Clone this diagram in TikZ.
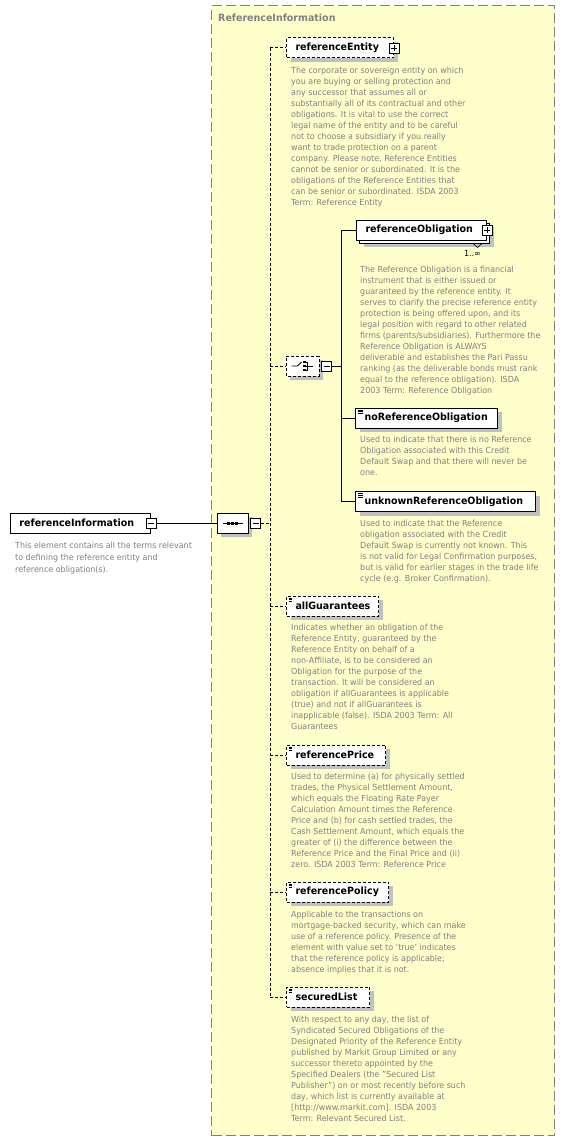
\documentclass[tikz,border=0pt]{standalone}
\usepackage{fontspec}
\setmainfont{DejaVu Sans}[FakeStretch=0.95]
\usetikzlibrary{positioning,shapes.misc,shadows}

\definecolor{groupfill}{RGB}{255,255,204}
\definecolor{groupline}{RGB}{128,128,128}
\definecolor{doctext}{RGB}{128,128,128}
\definecolor{shadowfill}{RGB}{192,192,192}

\newcommand{\elemfont}{\fontsize{10}{11}\selectfont\bfseries}
\newcommand{\docfont}{\fontsize{8.4}{11}\selectfont}

\tikzset{
  elem/.style={draw, fill=white, line width=1pt, inner xsep=9pt, inner ysep=0pt,
    minimum height=20pt, text width=#1, align=left, anchor=west, font=\elemfont},
  childelem/.style={elem=#1,
    drop shadow={shadow xshift=4pt, shadow yshift=-4pt, fill=shadowfill, opacity=1}},
  optelem/.style={childelem=#1, dash pattern=on 3pt off 2pt},
  simple/.style={path picture={
    \foreach \k in {0,1,2}
      \draw[line width=0.5pt] ([xshift=2pt, yshift=-2pt-\k*1.7pt]path picture bounding box.north west) -- ++(5pt,0);}},
  plusbox/.style={draw, fill=white, line width=0.9pt, minimum size=10pt, inner sep=0pt,
    path picture={
      \draw[line width=0.9pt] ([xshift=2pt]path picture bounding box.west) -- ([xshift=-2pt]path picture bounding box.east);
      \draw[line width=0.9pt] ([yshift=-2pt]path picture bounding box.north) -- ([yshift=2pt]path picture bounding box.south);}},
  minusbox/.style={draw, fill=white, line width=0.9pt, minimum size=10pt, inner sep=0pt,
    path picture={
      \draw[line width=0.9pt] ([xshift=2pt]path picture bounding box.west) -- ([xshift=-2pt]path picture bounding box.east);}},
  compositor/.style={chamfered rectangle, chamfered rectangle xsep=5pt, draw, fill=white,
    line width=1pt, minimum height=20pt, inner sep=0pt,
    drop shadow={shadow xshift=4pt, shadow yshift=-4pt, fill=shadowfill, opacity=1}},
  optcompositor/.style={compositor, dash pattern=on 3pt off 2pt},
  doc/.style={font=\docfont, text=doctext, align=left, inner sep=0pt, anchor=north west},
  mult/.style={font=\docfont, inner sep=0pt},
  conn/.style={line width=1pt},
  optconn/.style={line width=1pt, dash pattern=on 3pt off 2pt},
  groupbox/.style={draw=groupline, fill=groupfill, line width=1.2pt, dash pattern=on 10pt off 4pt},
  grouptitle/.style={font=\elemfont, text=groupline, inner sep=0pt}
}

\begin{document}
\begin{tikzpicture}[x=1pt, y=-1pt]
  \useasboundingbox (0,0) rectangle (565,1142);

  % group
  \node[groupbox, minimum width=343pt, minimum height=1130pt, anchor=north west] (refInfoGroup) at (211,5) {};
  \node[grouptitle, below right=9pt and 7pt of refInfoGroup.north west] (refInfoTitle) {ReferenceInformation};

  % root element
  \node[elem=122pt] (refInfo) at (10,523) {referenceInformation};
  \node[minusbox] (refInfoMinus) at (refInfo.east) {};
  \node[doc, font=\fontsize{8.4}{12}\selectfont, below right=8pt and 5pt of refInfo.south west] (refInfoDoc) {This element contains all the terms relevant\\
    to defining the reference entity and\\
    reference obligation(s).};

  % sequence
  \node[compositor, minimum width=31pt] (seq) at (232.5,523) {};
  \node[minusbox] (seqMinus) at ([xshift=7pt]seq.east) {};
  \draw[line width=1pt] ([xshift=-10pt]seq.center) -- ([xshift=10pt]seq.center);
  \foreach \dx in {-4,0,4}
    \fill ([xshift=\dx pt]seq.center) ++(-1.5pt,-1.5pt) rectangle ++(3pt,3pt);
  \coordinate (spine) at (270,523);

  % referenceEntity
  \node[optelem=89pt] (refEntity) at (286,48) {referenceEntity};
  \node[plusbox] (refEntityPlus) at (refEntity.east) {};
  \node[doc, below right=8pt and 5pt of refEntity.south west] (refEntityDoc) {The corporate or sovereign entity on which\\
    you are buying or selling protection and\\
    any successor that assumes all or\\
    substantially all of its contractual and other\\
    obligations. It is vital to use the correct\\
    legal name of the entity and to be careful\\
    not to choose a subsidiary if you really\\
    want to trade protection on a parent\\
    company. Please note, Reference Entities\\
    cannot be senior or subordinated. It is the\\
    obligations of the Reference Entities that\\
    can be senior or subordinated. ISDA 2003\\
    Term: Reference Entity};

  % choice
  \node[optcompositor, minimum width=33pt] (choice) at (302.5,366) {};
  \node[minusbox] (choiceMinus) at ([xshift=7pt]choice.east) {};
  \draw[line width=0.9pt] ([xshift=-11pt]choice.center) -- ([xshift=-5pt]choice.center) -- ([xshift=-1pt, yshift=4pt]choice.center);
  \foreach \dy in {-4,0,4} {
    \fill ([xshift=2pt, yshift=\dy pt]choice.center) ++(-1.3pt,-1.3pt) rectangle ++(2.6pt,2.6pt);
    \draw[line width=0.7pt] ([xshift=2pt, yshift=\dy pt]choice.center) -- ([xshift=5pt, yshift=\dy pt]choice.center);
  }
  \draw[line width=0.9pt] ([xshift=5pt, yshift=4pt]choice.center) -- ([xshift=5pt, yshift=-4pt]choice.center);
  \draw[line width=0.9pt] ([xshift=5pt]choice.center) -- ([xshift=10pt]choice.center);
  \coordinate (choiceSpine) at (341,366);

  % referenceObligation
  \node[childelem=112pt] (refObligationBack) at (359,233) {};
  \node[elem=112pt] (refObligation) at (356,230) {referenceObligation};
  \node[plusbox] (refObligationPlus) at (refObligation.east) {};
  \draw[line width=0.6pt] ([xshift=-17pt]refObligationBack.south east) -- ++(4.5pt,-4pt) -- ++(4.5pt,4pt);
  \node[mult, below left=7pt and 9pt of refObligationBack.south east] (refObligationMult) {1..∞};
  \node[doc, below right=25pt and 4pt of refObligation.south west] (refObligationDoc) {The Reference Obligation is a financial\\
    instrument that is either issued or\\
    guaranteed by the reference entity. It\\
    serves to clarify the precise reference entity\\
    protection is being offered upon, and its\\
    legal position with regard to other related\\
    firms (parents/subsidiaries). Furthermore the\\
    Reference Obligation is ALWAYS\\
    deliverable and establishes the Pari Passu\\
    ranking (as the deliverable bonds must rank\\
    equal to the reference obligation). ISDA\\
    2003 Term: Reference Obligation};

  % noReferenceObligation
  \node[childelem=124pt, simple] (noRefObligation) at (355,418) {noReferenceObligation};
  \node[doc, below right=7.5pt and 5pt of noRefObligation.south west] (noRefObligationDoc) {Used to indicate that there is no Reference\\
    Obligation associated with this Credit\\
    Default Swap and that there will never be\\
    one.};

  % unknownReferenceObligation
  \node[childelem=162pt, simple] (unknownRefObligation) at (355,501.5) {unknownReferenceObligation};
  \node[doc, below right=7.5pt and 5pt of unknownRefObligation.south west] (unknownRefObligationDoc) {Used to indicate that the Reference\\
    obligation associated with the Credit\\
    Default Swap is currently not known. This\\
    is not valid for Legal Confirmation purposes,\\
    but is valid for earlier stages in the trade life\\
    cycle (e.g. Broker Confirmation).};

  % allGuarantees
  \node[optelem=74pt, simple] (allGuarantees) at (286,606) {allGuarantees};
  \node[doc, below right=7.5pt and 5pt of allGuarantees.south west] (allGuaranteesDoc) {Indicates whether an obligation of the\\
    Reference Entity, guaranteed by the\\
    Reference Entity on behalf of a\\
    non-Affiliate, is to be considered an\\
    Obligation for the purpose of the\\
    transaction. It will be considered an\\
    obligation if allGuarantees is applicable\\
    (true) and not if allGuarantees is\\
    inapplicable (false). ISDA 2003 Term: All\\
    Guarantees};

  % referencePrice
  \node[optelem=81pt, simple] (refPrice) at (286,755) {referencePrice};
  \node[doc, below right=7.5pt and 5pt of refPrice.south west] (refPriceDoc) {Used to determine (a) for physically settled\\
    trades, the Physical Settlement Amount,\\
    which equals the Floating Rate Payer\\
    Calculation Amount times the Reference\\
    Price and (b) for cash settled trades, the\\
    Cash Settlement Amount, which equals the\\
    greater of (i) the difference between the\\
    Reference Price and the Final Price and (ii)\\
    zero. ISDA 2003 Term: Reference Price};

  % referencePolicy
  \node[optelem=84pt, simple] (refPolicy) at (286,892) {referencePolicy};
  \node[doc, below right=8.5pt and 5pt of refPolicy.south west] (refPolicyDoc) {Applicable to the transactions on\\
    mortgage-backed security, which can make\\
    use of a reference policy. Presence of the\\
    element with value set to 'true' indicates\\
    that the reference policy is applicable;\\
    absence implies that it is not.};

  % securedList
  \node[optelem=65pt, simple] (securedList) at (286,997) {securedList};
  \node[doc, below right=8pt and 5pt of securedList.south west] (securedListDoc) {With respect to any day, the list of\\
    Syndicated Secured Obligations of the\\
    Designated Priority of the Reference Entity\\
    published by Markit Group Limited or any\\
    successor thereto appointed by the\\
    Specified Dealers (the "Secured List\\
    Publisher") on or most recently before such\\
    day, which list is currently available at\\
    {[}http://www.markit.com{]}. ISDA 2003\\
    Term: Relevant Secured List.};

  % connectors
  \draw[conn] (refInfoMinus.east) -- (seq.west);
  \draw[optconn] (seqMinus.east) -- (spine);
  \draw[optconn] (spine |- refEntity.west) -- (spine |- securedList.west);
  \foreach \n in {refEntity, choice, allGuarantees, refPrice, refPolicy, securedList}
    \draw[optconn] (spine |- \n.west) -- (\n.west);
  \draw[conn] (choiceMinus.east) -- (choiceSpine);
  \draw[conn] (choiceSpine |- refObligation.west) -- (choiceSpine |- unknownRefObligation.west);
  \foreach \n in {refObligation, noRefObligation, unknownRefObligation}
    \draw[conn] (choiceSpine |- \n.west) -- (\n.west);
\end{tikzpicture}
\end{document}
